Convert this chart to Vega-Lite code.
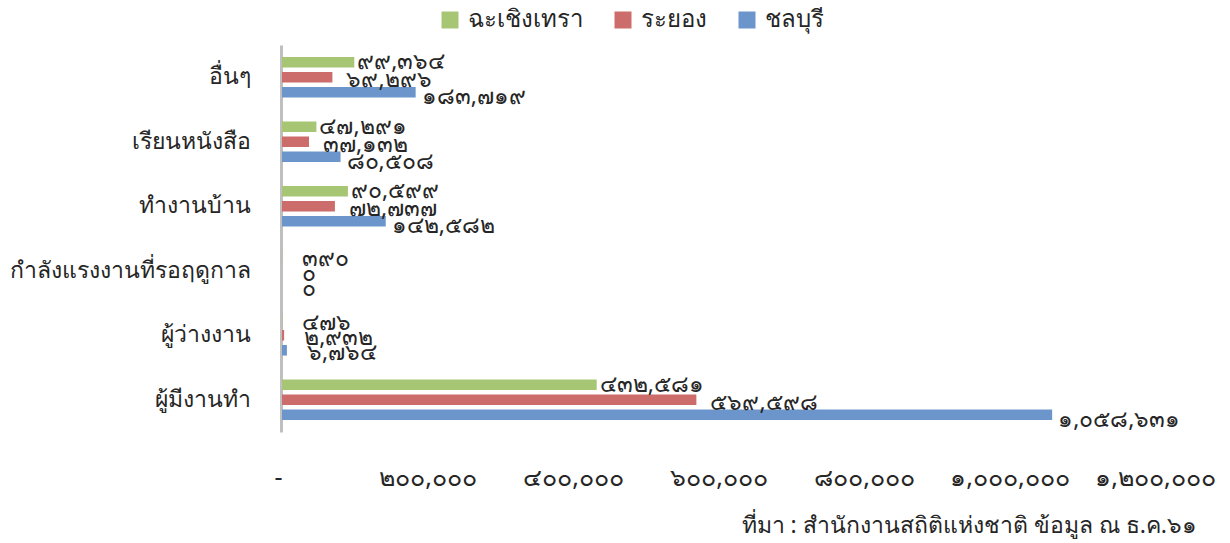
{
  "$schema": "https://vega.github.io/schema/vega-lite/v6.json",
  "autosize": "none",
  "width": 873,
  "height": 387,
  "padding": {"left": 282, "top": 45, "right": 75, "bottom": 111},
  "background": "white",
  "config": {
    "font": "Noto Sans",
    "view": {"stroke": null},
    "locale": {
      "number": {
        "decimal": ".",
        "thousands": ",",
        "grouping": [3],
        "currency": ["", ""],
        "numerals": ["๐", "๑", "๒", "๓", "๔", "๕", "๖", "๗", "๘", "๙"]
      }
    }
  },
  "title": {
    "text": "ที่มา : สำนักงานสถิติแห่งชาติ ข้อมูล ณ ธ.ค.๖๑",
    "orient": "bottom",
    "anchor": "end",
    "frame": "group",
    "fontSize": 23,
    "fontWeight": "normal",
    "color": "#262626",
    "dx": 42,
    "offset": 25
  },
  "data": {
    "values": [
      {"category": "อื่นๆ", "province": "ฉะเชิงเทรา", "value": 99364},
      {"category": "อื่นๆ", "province": "ระยอง", "value": 69296},
      {"category": "อื่นๆ", "province": "ชลบุรี", "value": 183719},
      {"category": "เรียนหนังสือ", "province": "ฉะเชิงเทรา", "value": 47291},
      {"category": "เรียนหนังสือ", "province": "ระยอง", "value": 37132},
      {"category": "เรียนหนังสือ", "province": "ชลบุรี", "value": 80508},
      {"category": "ทำงานบ้าน", "province": "ฉะเชิงเทรา", "value": 90599},
      {"category": "ทำงานบ้าน", "province": "ระยอง", "value": 72737},
      {"category": "ทำงานบ้าน", "province": "ชลบุรี", "value": 142582},
      {"category": "กำลังแรงงานที่รอฤดูกาล", "province": "ฉะเชิงเทรา", "value": 390},
      {"category": "กำลังแรงงานที่รอฤดูกาล", "province": "ระยอง", "value": 0},
      {"category": "กำลังแรงงานที่รอฤดูกาล", "province": "ชลบุรี", "value": 0},
      {"category": "ผู้ว่างงาน", "province": "ฉะเชิงเทรา", "value": 476},
      {"category": "ผู้ว่างงาน", "province": "ระยอง", "value": 2932},
      {"category": "ผู้ว่างงาน", "province": "ชลบุรี", "value": 6764},
      {"category": "ผู้มีงานทำ", "province": "ฉะเชิงเทรา", "value": 432581},
      {"category": "ผู้มีงานทำ", "province": "ระยอง", "value": 569598},
      {"category": "ผู้มีงานทำ", "province": "ชลบุรี", "value": 1058631}
    ]
  },
  "encoding": {
    "y": {
      "field": "category",
      "type": "nominal",
      "sort": ["อื่นๆ", "เรียนหนังสือ", "ทำงานบ้าน", "กำลังแรงงานที่รอฤดูกาล", "ผู้ว่างงาน", "ผู้มีงานทำ"],
      "scale": {"paddingInner": 0.3, "paddingOuter": 0.15},
      "axis": {
        "title": null,
        "ticks": false,
        "domainColor": "#BFBFBF",
        "domainWidth": 3,
        "offset": 1,
        "labelFontSize": 23,
        "labelColor": "#262626",
        "labelPadding": 31,
        "labelLimit": 400
      }
    },
    "yOffset": {
      "field": "province",
      "type": "nominal",
      "sort": ["ฉะเชิงเทรา", "ระยอง", "ชลบุรี"],
      "scale": {"paddingInner": 0.3, "paddingOuter": 0.15}
    },
    "x": {
      "field": "value",
      "type": "quantitative",
      "scale": {"domain": [0, 1200000], "nice": false},
      "axis": {
        "title": null,
        "grid": false,
        "domain": false,
        "ticks": false,
        "values": [0, 200000, 400000, 600000, 800000, 1000000, 1200000],
        "format": ",.0f",
        "labelExpr": "datum.value == 0 ? '-' : datum.label",
        "labelAlign": {"condition": {"test": "datum.value == 0", "value": "right"}, "value": "center"},
        "labelFontSize": 25,
        "labelColor": "#262626",
        "labelPadding": 33,
        "labelFlush": false
      }
    }
  },
  "layer": [
    {
      "mark": {"type": "bar"},
      "encoding": {
        "color": {
          "field": "province",
          "type": "nominal",
          "sort": ["ฉะเชิงเทรา", "ระยอง", "ชลบุรี"],
          "scale": {
            "domain": ["ฉะเชิงเทรา", "ระยอง", "ชลบุรี"],
            "range": ["#A6C674", "#CC6D6B", "#6C95CB"]
          },
          "legend": {
            "title": null,
            "orient": "none",
            "direction": "horizontal",
            "legendX": 156,
            "legendY": -37,
            "symbolType": "square",
            "symbolSize": 289,
            "symbolStrokeWidth": 0,
            "labelFontSize": 24,
            "labelColor": "#262626",
            "columnPadding": 28,
            "labelOffset": 6
          }
        }
      }
    },
    {
      "transform": [{"filter": "datum.province == 'ฉะเชิงเทรา' && datum.value >= 10000"}],
      "mark": {"type": "text", "align": "left", "baseline": "middle", "dx": 3, "dy": 0, "fontSize": 23, "color": "#262626"},
      "encoding": {"text": {"field": "value", "type": "quantitative", "format": ","}}
    },
    {
      "transform": [{"filter": "datum.province == 'ระยอง' && datum.value >= 10000"}],
      "mark": {"type": "text", "align": "left", "baseline": "middle", "dx": 14, "dy": 3, "fontSize": 23, "color": "#262626"},
      "encoding": {"text": {"field": "value", "type": "quantitative", "format": ","}}
    },
    {
      "transform": [{"filter": "datum.province == 'ชลบุรี' && datum.value >= 10000"}],
      "mark": {"type": "text", "align": "left", "baseline": "middle", "dx": 6, "dy": 5, "fontSize": 23, "color": "#262626"},
      "encoding": {"text": {"field": "value", "type": "quantitative", "format": ","}}
    },
    {
      "transform": [{"filter": "datum.value < 10000"}],
      "mark": {"type": "text", "align": "left", "baseline": "middle", "dx": 20, "dy": 3, "fontSize": 23, "color": "#262626"},
      "encoding": {"text": {"field": "value", "type": "quantitative", "format": ","}}
    }
  ]
}
